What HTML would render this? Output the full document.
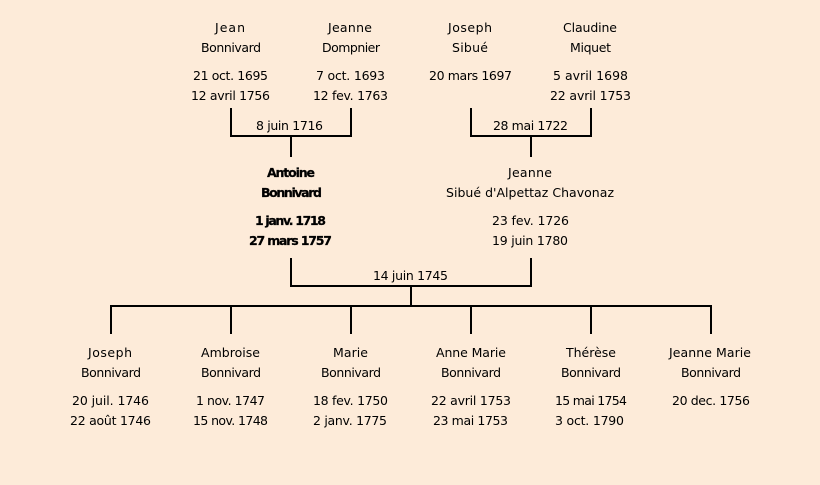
<!DOCTYPE html>
<html><head><meta charset="utf-8"><style>
html,body{margin:0;padding:0;background:#fdebd9;width:820px;height:485px;overflow:hidden}
svg{display:block}
text{font-family:"Comic Sans MS","DejaVu Sans","Liberation Sans",sans-serif;font-size:12.5px;fill:#000}
.b{font-weight:bold;stroke:#000;stroke-width:.25px}
</style></head><body>
<svg width="820" height="485" viewBox="0 0 820 485" xmlns="http://www.w3.org/2000/svg">
<rect width="820" height="485" fill="#fdebd9"/>
<g fill="none" stroke="#000" stroke-width="2">
<path d="M231 108V136H351V108M291 136V157"/>
<path d="M471 108V136H591V108M531 136V157"/>
<path d="M291 258V286H531V258M411 286V306"/>
<path d="M111 334V306H711V334M231 306V334M351 306V334M471 306V334M591 306V334"/>
</g>
<g>
<text x="215" y="32" textLength="30" lengthAdjust="spacing">Jean</text>
<text x="201" y="52" textLength="60" lengthAdjust="spacing">Bonnivard</text>
<text x="193" y="80" textLength="75" lengthAdjust="spacing">21 oct. 1695</text>
<text x="191" y="100" textLength="79" lengthAdjust="spacing">12 avril 1756</text>
<text x="328" y="32" textLength="44" lengthAdjust="spacing">Jeanne</text>
<text x="322" y="52" textLength="58" lengthAdjust="spacing">Dompnier</text>
<text x="316" y="80" textLength="69" lengthAdjust="spacing">7 oct. 1693</text>
<text x="313" y="100" textLength="75" lengthAdjust="spacing">12 fev. 1763</text>
<text x="256" y="130" textLength="67" lengthAdjust="spacing">8 juin 1716</text>
<text x="448" y="32" textLength="44" lengthAdjust="spacing">Joseph</text>
<text x="452" y="52" textLength="36" lengthAdjust="spacing">Sibué</text>
<text x="429" y="80" textLength="83" lengthAdjust="spacing">20 mars 1697</text>
<text x="563" y="32" textLength="54" lengthAdjust="spacing">Claudine</text>
<text x="570" y="52" textLength="41" lengthAdjust="spacing">Miquet</text>
<text x="553" y="80" textLength="75" lengthAdjust="spacing">5 avril 1698</text>
<text x="550" y="100" textLength="81" lengthAdjust="spacing">22 avril 1753</text>
<text x="493" y="130" textLength="75" lengthAdjust="spacing">28 mai 1722</text>

<text class="b" x="267" y="177" textLength="48" lengthAdjust="spacing">Antoine</text>
<text class="b" x="261" y="197" textLength="61" lengthAdjust="spacing">Bonnivard</text>
<text class="b" x="255" y="225" textLength="71" lengthAdjust="spacing">1 janv. 1718</text>
<text class="b" x="249" y="245" textLength="83" lengthAdjust="spacing">27 mars 1757</text>
<text x="508" y="177" textLength="44" lengthAdjust="spacing">Jeanne</text>
<text x="446" y="197" textLength="168" lengthAdjust="spacing">Sibué d'Alpettaz Chavonaz</text>
<text x="492" y="225" textLength="77" lengthAdjust="spacing">23 fev. 1726</text>
<text x="492" y="245" textLength="76" lengthAdjust="spacing">19 juin 1780</text>
<text x="373" y="280" textLength="75" lengthAdjust="spacing">14 juin 1745</text>

<text x="88" y="357" textLength="44" lengthAdjust="spacing">Joseph</text>
<text x="81" y="377" textLength="60" lengthAdjust="spacing">Bonnivard</text>
<text x="72" y="405" textLength="77" lengthAdjust="spacing">20 juil. 1746</text>
<text x="70" y="425" textLength="81" lengthAdjust="spacing">22 août 1746</text>
<text x="201" y="357" textLength="59" lengthAdjust="spacing">Ambroise</text>
<text x="201" y="377" textLength="60" lengthAdjust="spacing">Bonnivard</text>
<text x="196" y="405" textLength="69" lengthAdjust="spacing">1 nov. 1747</text>
<text x="193" y="425" textLength="75" lengthAdjust="spacing">15 nov. 1748</text>
<text x="333" y="357" textLength="35" lengthAdjust="spacing">Marie</text>
<text x="321" y="377" textLength="60" lengthAdjust="spacing">Bonnivard</text>
<text x="313" y="405" textLength="75" lengthAdjust="spacing">18 fev. 1750</text>
<text x="313" y="425" textLength="74" lengthAdjust="spacing">2 janv. 1775</text>
<text x="436" y="357" textLength="70" lengthAdjust="spacing">Anne Marie</text>
<text x="441" y="377" textLength="60" lengthAdjust="spacing">Bonnivard</text>
<text x="431" y="405" textLength="80" lengthAdjust="spacing">22 avril 1753</text>
<text x="433" y="425" textLength="75" lengthAdjust="spacing">23 mai 1753</text>
<text x="566" y="357" textLength="50" lengthAdjust="spacing">Thérèse</text>
<text x="561" y="377" textLength="60" lengthAdjust="spacing">Bonnivard</text>
<text x="555" y="405" textLength="72" lengthAdjust="spacing">15 mai 1754</text>
<text x="555" y="425" textLength="69" lengthAdjust="spacing">3 oct. 1790</text>
<text x="669" y="357" textLength="82" lengthAdjust="spacing">Jeanne Marie</text>
<text x="681" y="377" textLength="60" lengthAdjust="spacing">Bonnivard</text>
<text x="672" y="405" textLength="78" lengthAdjust="spacing">20 dec. 1756</text>
</g>
</svg>
</body></html>
